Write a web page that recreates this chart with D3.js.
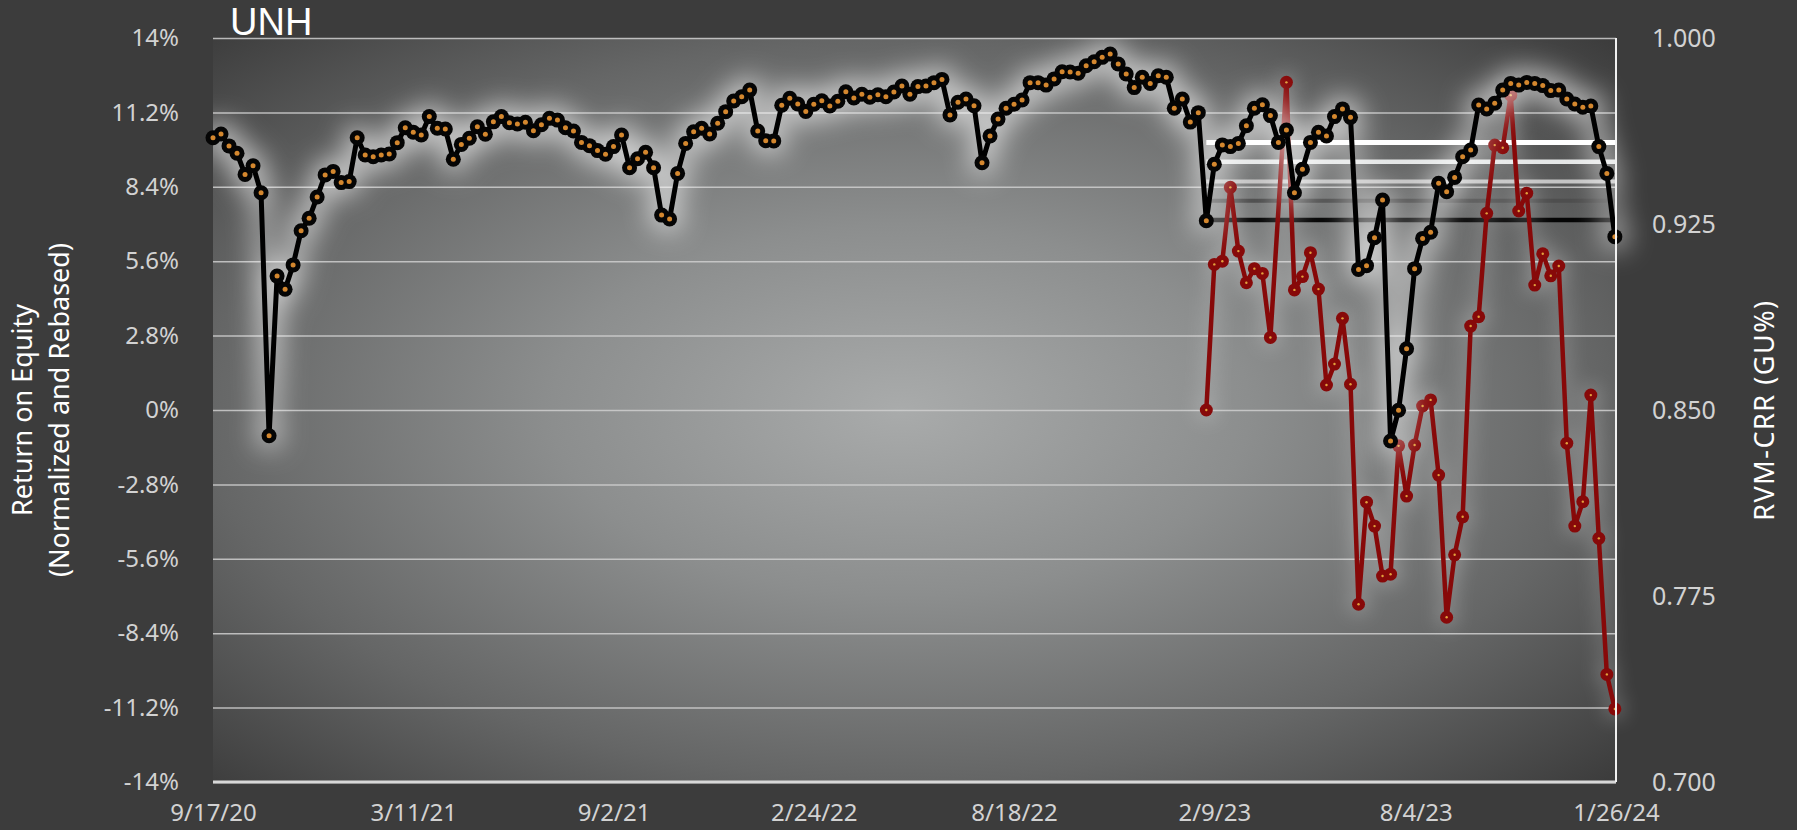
<!DOCTYPE html>
<html>
<head>
<meta charset="utf-8">
<script src="https://cdn.jsdelivr.net/npm/d3@7"></script>
<style>
  html, body { margin: 0; padding: 0; background: #3c3c3c; }
  svg { display: block; }
  text { font-family: 'Noto Sans', 'Open Sans', sans-serif; }
</style>
</head>
<body>
<div id="chart"></div>
<script>
'use strict';

// ---- data ----------------------------------------------------------------

const title = 'UNH';
const leftTitle = ['Return on Equity', '(Normalized and Rebased)'];
const rightTitle = 'RVM-CRR (GU%)';

// weekly observations, first one on this date
const firstWeek = '9/17/20';
const xTickLabels = ['9/17/20', '3/11/21', '9/2/21', '2/24/22', '8/18/22', '2/9/23', '8/4/23', '1/26/24'];
const leftTicks = [14, 11.2, 8.4, 5.6, 2.8, 0, -2.8, -5.6, -8.4, -11.2, -14];
const rightTicks = [1.000, 0.925, 0.850, 0.775, 0.700];

// RVM-CRR, right axis, one value per week
const rvmCrr = [
  0.9598, 0.9613, 0.9565, 0.9535, 0.9450, 0.9485, 0.9376, 0.8396, 0.9040, 0.8987,
  0.9085, 0.9223, 0.9273, 0.9359, 0.9448, 0.9462, 0.9417, 0.9421, 0.9598, 0.9528,
  0.9521, 0.9528, 0.9532, 0.9578, 0.9638, 0.9620, 0.9609, 0.9683, 0.9636, 0.9633,
  0.9511, 0.9571, 0.9596, 0.9642, 0.9612, 0.9662, 0.9683, 0.9658, 0.9653, 0.9660,
  0.9626, 0.9650, 0.9676, 0.9669, 0.9638, 0.9625, 0.9579, 0.9566, 0.9546, 0.9531,
  0.9562, 0.9609, 0.9477, 0.9513, 0.9539, 0.9477, 0.9286, 0.9270, 0.9454, 0.9575,
  0.9622, 0.9636, 0.9613, 0.9656, 0.9703, 0.9746, 0.9763, 0.9790, 0.9625, 0.9586,
  0.9585, 0.9729, 0.9757, 0.9734, 0.9704, 0.9733, 0.9747, 0.9726, 0.9745, 0.9783,
  0.9758, 0.9773, 0.9761, 0.9771, 0.9763, 0.9782, 0.9806, 0.9773, 0.9804, 0.9806,
  0.9820, 0.9833, 0.9690, 0.9741, 0.9754, 0.9727, 0.9497, 0.9605, 0.9673, 0.9717,
  0.9733, 0.9750, 0.9820, 0.9820, 0.9810, 0.9835, 0.9864, 0.9863, 0.9858, 0.9888,
  0.9904, 0.9922, 0.9935, 0.9895, 0.9855, 0.9800, 0.9842, 0.9817, 0.9848, 0.9842,
  0.9717, 0.9754, 0.9661, 0.9699, 0.9263, 0.9491, 0.9569, 0.9562, 0.9575, 0.9646,
  0.9717, 0.9731, 0.9687, 0.9579, 0.9629, 0.9376, 0.9471, 0.9579, 0.9620, 0.9605,
  0.9683, 0.9714, 0.9680, 0.9067, 0.9082, 0.9195, 0.9347, 0.8375, 0.8499, 0.8747,
  0.9070, 0.9192, 0.9217, 0.9414, 0.9380, 0.9438, 0.9521, 0.9548, 0.9730, 0.9714,
  0.9737, 0.9790, 0.9817, 0.9810, 0.9821, 0.9817, 0.9808, 0.9788, 0.9790, 0.9754,
  0.9734, 0.9721, 0.9726, 0.9562, 0.9454, 0.9199
];

// Return on equity, rebased to 0 on its first week (left axis, %)
const roeFirstWeek = '2/2/23';
const roeRebased = [
  0.00, 5.48, 5.60, 8.38, 5.98, 4.79, 5.32, 5.14, 2.73, null,
  12.33, 4.52, 5.02, 5.92, 4.55, 0.94, 1.73, 3.45, 0.97, -7.31,
  -3.47, -4.37, -6.25, -6.18, -1.35, -3.24, -1.32, 0.15, 0.38, -2.45,
  -7.80, -5.45, -4.02, 3.16, 3.51, 7.40, 9.97, 9.87, 11.85, 7.49,
  8.16, 4.70, 5.88, 5.05, 5.42, -1.25, -4.37, -3.45, 0.56, -4.83,
  -9.95, -11.25
];

// RVM-CRR reference levels drawn over the ROE period (low to high)
const levelValues = [0.9266, 0.9344, 0.9421, 0.9501, 0.9579];

// ---- layout / style ------------------------------------------------------

const WIDTH = 1797;
const HEIGHT = 830;
const margin = {top: 38, right: 181, bottom: 48, left: 213};
const plotW = WIDTH - margin.left - margin.right;
const plotH = HEIGHT - margin.top - margin.bottom;

const levelColors = ['#050505', '#4e4e4e', '#c4c4c4', '#e4e6e6', '#ffffff'];
const levelWidths = [4.5, 4, 4, 4.5, 5];

const parseDate = d3.timeParse('%m/%d/%y');

const svg = d3.select('#chart').append('svg')
    .attr('width', WIDTH)
    .attr('height', HEIGHT);

svg.append('rect')
    .attr('width', WIDTH)
    .attr('height', HEIGHT)
    .attr('fill', '#3c3c3c');

const defs = svg.append('defs');

const grad = defs.append('radialGradient')
    .attr('id', 'plotBg')
    .attr('cx', 0.49).attr('cy', 0.5).attr('r', 0.71);
grad.append('stop').attr('offset', 0).attr('stop-color', '#a9abab');
grad.append('stop').attr('offset', 0.35).attr('stop-color', '#8c8e8e');
grad.append('stop').attr('offset', 0.7).attr('stop-color', '#656666');
grad.append('stop').attr('offset', 1).attr('stop-color', '#3c3c3c');

/**
 * Adds a soft blur filter covering the whole picture.
 */
function addBlur(id, sd) {
    defs.append('filter')
        .attr('id', id)
        .attr('filterUnits', 'userSpaceOnUse')
        .attr('x', 0).attr('y', 0).attr('width', WIDTH).attr('height', HEIGHT)
      .append('feGaussianBlur')
        .attr('stdDeviation', sd);
}
addBlur('glow', 14);
addBlur('glowSmall', 10);

const g = svg.append('g')
    .attr('transform', 'translate(' + margin.left + ',' + margin.top + ')');

g.append('rect')
    .attr('width', plotW)
    .attr('height', plotH)
    .attr('fill', 'url(#plotBg)');

// ---- scales --------------------------------------------------------------

const x = d3.scaleTime()
    .domain([parseDate(xTickLabels[0]), parseDate(xTickLabels[xTickLabels.length - 1])])
    .range([0, plotW]);

const yLeft = d3.scaleLinear().domain([-14, 14]).range([plotH, 0]);
const yRight = d3.scaleLinear().domain([0.7, 1.0]).range([plotH, 0]);

const rvmPoints = rvmCrr.map((v, i) => ({date: d3.timeWeek.offset(parseDate(firstWeek), i), v: v}));
const roePoints = roeRebased
    .map((v, i) => ({date: d3.timeWeek.offset(parseDate(roeFirstWeek), i), v: v}))
    .filter(d => d.v !== null);

// ---- gridlines -----------------------------------------------------------

g.append('g')
    .attr('class', 'grid')
    .call(d3.axisLeft(yLeft).tickValues(leftTicks).tickSize(-plotW).tickFormat(''))
    .call(s => s.select('.domain').remove())
    .call(s => s.selectAll('line')
        .attr('stroke', '#cfcfcf')
        .attr('stroke-opacity', 0.85)
        .attr('stroke-width', 1.5));

// ---- RVM-CRR levels ------------------------------------------------------

const levelStart = x(parseDate(roeFirstWeek));

g.append('g')
    .selectAll('line')
    .data(levelValues)
    .enter()
    .append('line')
    .attr('x1', levelStart)
    .attr('x2', plotW)
    .attr('y1', d => yRight(d))
    .attr('y2', d => yRight(d))
    .attr('stroke', (d, i) => levelColors[i])
    .attr('stroke-width', (d, i) => levelWidths[i]);

/**
 * Draws a blurred white halo behind a series: its line plus its markers.
 */
function drawGlow(points, yScale, lineWidth, radius, opacity, filterId) {
    const halo = g.append('g')
        .attr('opacity', opacity)
        .attr('filter', 'url(#' + filterId + ')');

    halo.append('path')
        .datum(points)
        .attr('d', d3.line().x(d => x(d.date)).y(d => yScale(d.v)))
        .attr('fill', 'none')
        .attr('stroke', '#ffffff')
        .attr('stroke-width', lineWidth)
        .attr('stroke-linejoin', 'round');

    halo.selectAll('circle')
        .data(points)
        .enter()
        .append('circle')
        .attr('cx', d => x(d.date))
        .attr('cy', d => yScale(d.v))
        .attr('r', radius)
        .attr('fill', '#ffffff');
}

// ---- ROE (red) -----------------------------------------------------------

const roeLine = d3.line().x(d => x(d.date)).y(d => yLeft(d.v));

drawGlow(roePoints, yLeft, 8, 9, 0.3, 'glowSmall');

g.append('path')
    .datum(roePoints)
    .attr('d', roeLine)
    .attr('fill', 'none')
    .attr('stroke', '#870909')
    .attr('stroke-width', 4.5)
    .attr('stroke-linejoin', 'round');

g.append('g')
    .selectAll('circle')
    .data(roePoints)
    .enter()
    .append('circle')
    .attr('cx', d => x(d.date))
    .attr('cy', d => yLeft(d.v))
    .attr('r', 6.5)
    .attr('fill', '#870909');

g.append('g')
    .selectAll('circle')
    .data(roePoints)
    .enter()
    .append('circle')
    .attr('cx', d => x(d.date))
    .attr('cy', d => yLeft(d.v))
    .attr('r', 1.2)
    .attr('fill', '#e3a23c');

// ---- RVM-CRR (black) -----------------------------------------------------

const rvmLine = d3.line().x(d => x(d.date)).y(d => yRight(d.v));

drawGlow(rvmPoints, yRight, 12, 12, 0.72, 'glow');

g.append('path')
    .datum(rvmPoints)
    .attr('d', rvmLine)
    .attr('fill', 'none')
    .attr('stroke', '#000000')
    .attr('stroke-width', 5)
    .attr('stroke-linejoin', 'round');

g.append('g')
    .selectAll('circle')
    .data(rvmPoints)
    .enter()
    .append('circle')
    .attr('cx', d => x(d.date))
    .attr('cy', d => yRight(d.v))
    .attr('r', 7.5)
    .attr('fill', '#050505');

g.append('g')
    .selectAll('circle')
    .data(rvmPoints)
    .enter()
    .append('circle')
    .attr('cx', d => x(d.date))
    .attr('cy', d => yRight(d.v))
    .attr('r', 2.5)
    .attr('fill', '#d4872e');

// ---- axes ----------------------------------------------------------------

g.append('line')
    .attr('x1', 0).attr('x2', plotW)
    .attr('y1', plotH).attr('y2', plotH)
    .attr('stroke', '#d8d8d8')
    .attr('stroke-width', 3);

g.append('line')
    .attr('x1', plotW).attr('x2', plotW)
    .attr('y1', 0).attr('y2', plotH)
    .attr('stroke', '#f0f0f0')
    .attr('stroke-width', 2);

const labelColor = '#d2d2d2';

g.append('g')
    .call(d3.axisLeft(yLeft).tickValues(leftTicks).tickSize(0).tickPadding(34)
        .tickFormat(d => d + '%'))
    .call(s => s.select('.domain').remove())
    .call(s => s.selectAll('text')
        .attr('fill', labelColor)
        .style('font-size', '24px'));

g.append('g')
    .attr('transform', 'translate(' + plotW + ',0)')
    .call(d3.axisRight(yRight).tickValues(rightTicks).tickSize(0).tickPadding(36)
        .tickFormat(d3.format('.3f')))
    .call(s => s.select('.domain').remove())
    .call(s => s.selectAll('text')
        .attr('fill', labelColor)
        .style('font-size', '25px'));

g.append('g')
    .attr('transform', 'translate(0,' + plotH + ')')
    .call(d3.axisBottom(x).tickValues(xTickLabels.map(parseDate)).tickSize(0)
        .tickFormat((d, i) => xTickLabels[i]))
    .call(s => s.select('.domain').remove())
    .call(s => s.selectAll('text')
        .attr('y', 39)
        .attr('dy', null)
        .attr('fill', labelColor)
        .style('font-size', '24px'));

// ---- titles --------------------------------------------------------------

svg.append('text')
    .attr('x', 230)
    .attr('y', 35)
    .attr('fill', '#ffffff')
    .style('font-family', "'Liberation Sans', Arial, sans-serif")
    .style('font-size', '38px')
    .text(title);

svg.append('g')
    .attr('transform', 'translate(0,' + (margin.top + plotH / 2) + ') rotate(-90)')
    .selectAll('text')
    .data(leftTitle)
    .enter()
    .append('text')
    .attr('x', 0)
    .attr('y', (d, i) => 32 + i * 37)
    .attr('text-anchor', 'middle')
    .attr('fill', '#ffffff')
    .style('font-size', '27px')
    .text(d => d);

svg.append('text')
    .attr('transform', 'translate(1774,' + (margin.top + plotH / 2) + ') rotate(-90)')
    .attr('text-anchor', 'middle')
    .attr('fill', '#ffffff')
    .style('font-size', '27px')
    .style('letter-spacing', '1.5px')
    .text(rightTitle);
</script>
</body>
</html>
